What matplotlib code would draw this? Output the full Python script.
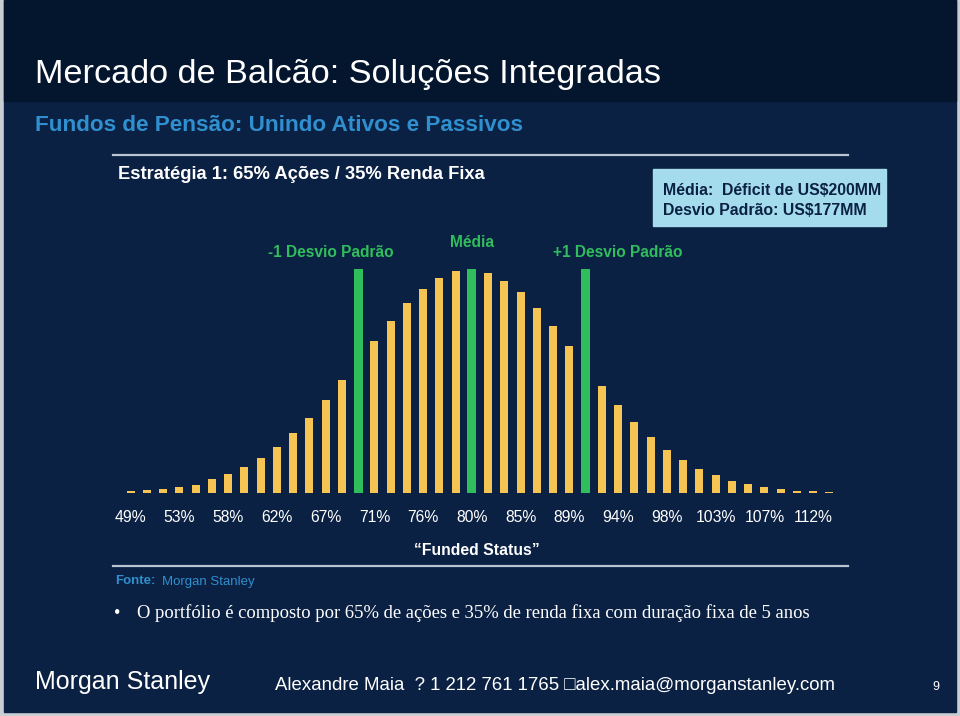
# =============================================================================
# Mercado de Balcão - Funded Status distribution (Morgan Stanley slide 9)
# =============================================================================
import matplotlib
matplotlib.use('Agg')
import matplotlib.pyplot as plt
from matplotlib.patches import Rectangle

# -----------------------------------------------------------------------------
# DATA
# -----------------------------------------------------------------------------
# relative frequency of each funded-status bucket (44 buckets, ~1.5% wide)
freq = [5, 9, 12, 17, 25, 41, 56, 77, 106, 139, 181, 225, 279, 338,
        673, 457, 516, 570, 614, 647, 667, 673,
        662, 638, 603, 555, 502, 442, 673, 321, 265, 213, 169, 130,
        98, 71, 53, 36, 26, 17, 11, 6, 5, 2]
highlight = [14, 21, 28]          # -1 SD, mean, +1 SD
tick_pos = list(range(0, 44, 3))
tick_labels = ['49%', '53%', '58%', '62%', '67%', '71%', '76%', '80%',
               '85%', '89%', '94%', '98%', '103%', '107%', '112%']

title = 'Mercado de Balcão: Soluções Integradas'
subtitle = 'Fundos de Pensão: Unindo Ativos e Passivos'
strategy = 'Estratégia 1: 65% Ações / 35% Renda Fixa'
box_lines = ['Média:  Déficit de US$200MM', 'Desvio Padrão: US$177MM']
marker_labels = ['-1 Desvio Padrão', 'Média', '+1 Desvio Padrão']
bullet = 'O portfólio é composto por 65% de ações e 35% de renda fixa com duração fixa de 5 anos'
contact = 'Alexandre Maia  ? 1 212 761 1765 \u25a1alex.maia@morganstanley.com'

# colours
BODY = '#0b2143'
BAND = '#04152e'
YELLOW = '#f5c453'
GREEN = '#30bd5c'
BLUE = '#2f8fcf'
LINE = '#b8c4d2'

plt.rcParams['font.family'] = ['Liberation Sans', 'DejaVu Sans']

W, H = 960, 716


def fx(px):
    return px / W


def fy(py):
    return 1 - py / H


def ty(py):  # text centre, small correction for va='center'
    return fy(py + 2.5)


# -----------------------------------------------------------------------------
# FIGURE / BACKGROUND
# -----------------------------------------------------------------------------
fig = plt.figure(figsize=(9.6, 7.16), dpi=100, facecolor='#c9ced4')
fig.patches.append(Rectangle((fx(4), fy(712)), fx(952), 712 / H,
                             transform=fig.transFigure, color=BODY, zorder=-2))
fig.patches.append(Rectangle((fx(4), fy(101)), fx(952), 101 / H,
                             transform=fig.transFigure, color=BAND, zorder=-1))

fig.text(fx(35), ty(72), title, color='white', fontsize=24.7, va='center')
fig.text(fx(35), ty(123), subtitle, color=BLUE, fontsize=16.2, fontweight='bold',
         va='center')

# separators
for y in (155, 566):
    fig.add_artist(plt.Line2D([fx(113), fx(848)], [fy(y), fy(y)],
                              color=LINE, lw=1.6, transform=fig.transFigure))

fig.text(fx(118), ty(172), strategy, color='white', fontsize=13.2,
         fontweight='bold', va='center')

# info box
fig.patches.append(Rectangle((fx(653), fy(226)), fx(233), 57 / H,
                             transform=fig.transFigure, color='#a5dced', zorder=-1))
fig.text(fx(663), ty(188), box_lines[0], color=BODY, fontsize=11.4,
         fontweight='bold', va='center')
fig.text(fx(663), ty(208), box_lines[1], color=BODY, fontsize=11.4,
         fontweight='bold', va='center')

# -----------------------------------------------------------------------------
# BAR CHART
# -----------------------------------------------------------------------------
ax = fig.add_axes([fx(120.1), fy(493), 719.9 / W, 233 / H])
ax.set_facecolor('none')

idx = list(range(len(freq)))
colors = [GREEN if i in highlight else YELLOW for i in idx]
widths = [0.56 if i in highlight else 0.5 for i in idx]
ax.bar(idx, freq, width=widths, color=colors)

ax.set_xlim(-0.65, 43.65)
ax.set_ylim(0, 700)
ax.set_yticks([])
ax.set_xticks(tick_pos)
ax.set_xticklabels(tick_labels, color='white', fontsize=11.3)
ax.tick_params(axis='x', length=0, pad=12.5)
for s in ax.spines.values():
    s.set_visible(False)

# labels over the highlighted bars
label_x = [331, 472, 618]
label_y = [250, 240, 250]
for txt, px, y in zip(marker_labels, label_x, label_y):
    fig.text(fx(px), ty(y), txt, color=GREEN, fontsize=11.2,
             fontweight='bold', ha='center', va='center')

fig.text(fx(477), ty(548), '\u201cFunded Status\u201d', color='white',
         fontsize=11.3, fontweight='bold', ha='center', va='center')

# -----------------------------------------------------------------------------
# SOURCE / BULLET / FOOTER
# -----------------------------------------------------------------------------
fig.text(fx(115), fy(584.5), 'Fonte:', color=BLUE, fontsize=9.5,
         fontweight='bold', va='baseline')
fig.text(fx(162), fy(584.5), 'Morgan Stanley', color=BLUE, fontsize=9.5,
         va='baseline')

serif = ['Liberation Serif', 'DejaVu Serif']
fig.text(fx(114), ty(611), '\u2022', color='white', fontsize=13.4,
         family=serif, va='center')
fig.text(fx(137), ty(611), bullet, color='white', fontsize=13.4,
         family=serif, va='center')

fig.text(fx(35), ty(680), 'Morgan Stanley', color='white', fontsize=18,
         va='center')
fig.text(fx(275), ty(683), contact, color='white', fontsize=13.4,
         va='center')
fig.text(fx(932), ty(684), '9', color='white', fontsize=9, va='center')

plt.savefig('out.png', dpi=100, facecolor=fig.get_facecolor())
